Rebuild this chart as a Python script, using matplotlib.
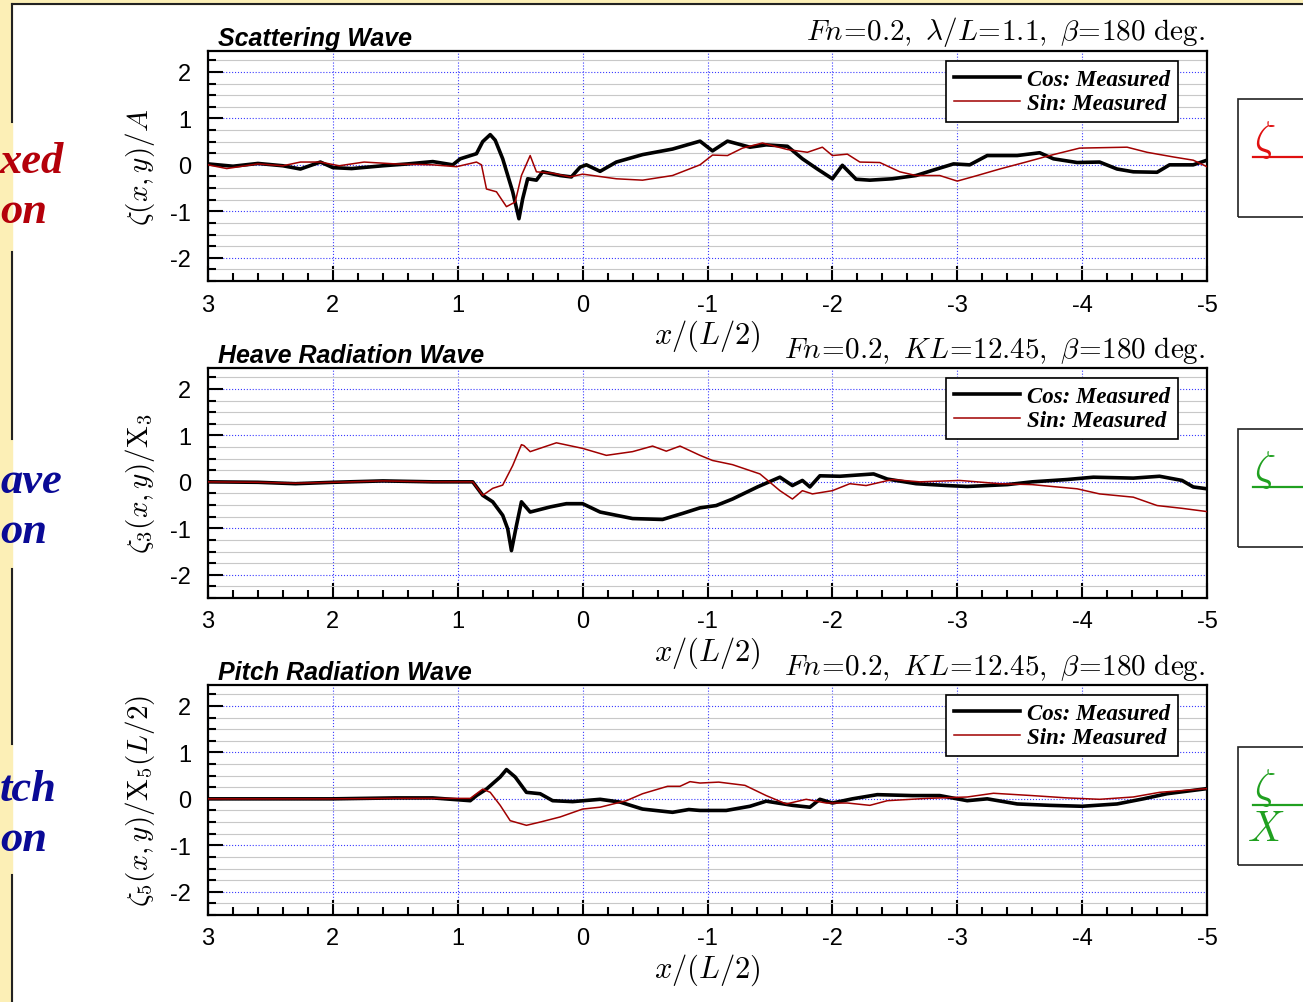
import numpy as np
import matplotlib
matplotlib.use('Agg')
import matplotlib.pyplot as plt
from matplotlib.patches import Rectangle
from matplotlib.lines import Line2D
from matplotlib.ticker import MultipleLocator

plt.rcParams['mathtext.fontset'] = 'cm'
plt.rcParams['font.family'] = 'Liberation Sans'

# wave elevation along the ship, (x/(L/2), value) pairs
scat_cos = [(3.0, 0.02), (2.8, -0.03), (2.6, 0.03), (2.4, -0.02), (2.26, -0.09), (2.1, 0.06),
            (2.0, -0.06), (1.85, -0.08), (1.6, -0.02), (1.4, 0.02), (1.2, 0.07), (1.04, 0.0),
            (0.98, 0.13), (0.85, 0.24), (0.8, 0.5), (0.74, 0.65), (0.70, 0.53), (0.64, 0.13),
            (0.56, -0.58), (0.51, -1.16), (0.48, -0.73), (0.44, -0.3), (0.37, -0.33), (0.32, -0.15),
            (0.18, -0.23), (0.09, -0.26), (0.02, -0.05), (-0.03, 0.0), (-0.14, -0.14), (-0.27, 0.06),
            (-0.48, 0.22), (-0.72, 0.34), (-0.94, 0.51), (-1.04, 0.30), (-1.16, 0.51), (-1.34, 0.38),
            (-1.47, 0.43), (-1.64, 0.40), (-1.76, 0.13), (-1.88, -0.09), (-2.0, -0.3), (-2.08, -0.01),
            (-2.19, -0.31), (-2.3, -0.33), (-2.48, -0.3), (-2.67, -0.23), (-2.8, -0.12), (-2.97, 0.02),
            (-3.1, 0.0), (-3.24, 0.2), (-3.48, 0.2), (-3.66, 0.26), (-3.77, 0.13), (-3.96, 0.05),
            (-4.14, 0.06), (-4.28, -0.09), (-4.41, -0.15), (-4.6, -0.16), (-4.7, 0.0), (-4.89, 0.0),
            (-5.0, 0.1)]
scat_sin = [(3.0, 0.0), (2.85, -0.08), (2.6, 0.02), (2.4, -0.02), (2.26, 0.06), (2.1, 0.06),
            (1.95, -0.02), (1.75, 0.06), (1.5, 0.02), (1.2, 0.0), (1.01, -0.04), (0.85, 0.06),
            (0.81, 0.0), (0.77, -0.52), (0.69, -0.58), (0.61, -0.9), (0.54, -0.8), (0.49, -0.23),
            (0.42, 0.2), (0.37, -0.15), (0.24, -0.18), (0.1, -0.26), (0.0, -0.2), (-0.27, -0.3),
            (-0.48, -0.33), (-0.72, -0.23), (-0.94, 0.0), (-1.04, 0.21), (-1.16, 0.2), (-1.28, 0.36),
            (-1.44, 0.47), (-1.64, 0.33), (-1.8, 0.27), (-1.92, 0.38), (-2.0, 0.2), (-2.12, 0.23),
            (-2.22, 0.06), (-2.38, 0.05), (-2.54, -0.15), (-2.67, -0.23), (-2.86, -0.23), (-3.0, -0.35),
            (-3.16, -0.23), (-3.34, -0.09), (-3.55, 0.06), (-3.74, 0.2), (-3.98, 0.36), (-4.36, 0.38),
            (-4.52, 0.27), (-4.73, 0.17), (-4.89, 0.1), (-5.0, -0.04)]

heave_cos = [(3.0, 0.0), (2.6, -0.01), (2.3, -0.04), (2.0, -0.01), (1.6, 0.02), (1.2, 0.0),
             (0.88, 0.0), (0.8, -0.29), (0.72, -0.43), (0.64, -0.72), (0.6, -1.01), (0.57, -1.48),
             (0.53, -0.94), (0.49, -0.43), (0.42, -0.65), (0.26, -0.54), (0.13, -0.47), (0.0, -0.47),
             (-0.14, -0.65), (-0.4, -0.79), (-0.64, -0.81), (-0.8, -0.68), (-0.94, -0.56), (-1.07, -0.51),
             (-1.2, -0.37), (-1.4, -0.11), (-1.58, 0.1), (-1.68, -0.08), (-1.76, 0.03), (-1.82, -0.11),
             (-1.9, 0.13), (-2.06, 0.12), (-2.33, 0.17), (-2.44, 0.06), (-2.67, -0.04), (-2.92, -0.08),
             (-3.08, -0.1), (-3.4, -0.06), (-3.6, 0.0), (-3.88, 0.05), (-4.09, 0.1), (-4.41, 0.08),
             (-4.62, 0.12), (-4.8, 0.03), (-4.89, -0.11), (-5.0, -0.15)]
heave_sin = [(3.0, 0.0), (2.6, -0.01), (2.3, -0.03), (2.0, -0.01), (1.6, 0.02), (1.2, 0.0),
             (0.88, 0.0), (0.8, -0.29), (0.72, -0.14), (0.64, -0.07), (0.56, 0.35), (0.49, 0.8),
             (0.47, 0.78), (0.42, 0.65), (0.21, 0.84), (0.0, 0.72), (-0.19, 0.57), (-0.4, 0.65),
             (-0.56, 0.77), (-0.67, 0.66), (-0.78, 0.77), (-0.94, 0.57), (-1.04, 0.46), (-1.2, 0.37),
             (-1.42, 0.17), (-1.58, -0.19), (-1.68, -0.37), (-1.76, -0.19), (-1.84, -0.26), (-2.0, -0.19),
             (-2.14, -0.04), (-2.27, -0.08), (-2.48, 0.05), (-2.7, 0.0), (-3.02, 0.03), (-3.34, -0.04),
             (-3.6, -0.06), (-3.96, -0.15), (-4.14, -0.26), (-4.41, -0.33), (-4.6, -0.51), (-4.8, -0.57),
             (-5.0, -0.64)]

pitch_cos = [(3.0, 0.0), (2.5, 0.0), (2.0, 0.0), (1.5, 0.02), (1.2, 0.02), (0.9, -0.04),
             (0.85, 0.07), (0.77, 0.21), (0.66, 0.47), (0.61, 0.63), (0.54, 0.47), (0.45, 0.14),
             (0.34, 0.11), (0.24, -0.04), (0.08, -0.06), (-0.14, -0.01), (-0.3, -0.07), (-0.48, -0.22),
             (-0.72, -0.29), (-0.85, -0.23), (-0.94, -0.25), (-1.15, -0.25), (-1.34, -0.16), (-1.47, -0.05),
             (-1.68, -0.14), (-1.82, -0.18), (-1.9, -0.01), (-2.0, -0.09), (-2.16, 0.0), (-2.36, 0.09),
             (-2.64, 0.07), (-2.86, 0.07), (-3.08, -0.04), (-3.24, 0.0), (-3.48, -0.11), (-3.74, -0.14),
             (-4.0, -0.16), (-4.28, -0.11), (-4.49, 0.0), (-4.68, 0.11), (-5.0, 0.22)]
pitch_sin = [(3.0, 0.0), (2.5, 0.0), (2.0, 0.0), (1.5, 0.01), (1.2, 0.01), (0.9, 0.01),
             (0.8, 0.21), (0.74, 0.14), (0.66, -0.14), (0.58, -0.47), (0.45, -0.57), (0.34, -0.5),
             (0.18, -0.39), (0.0, -0.22), (-0.14, -0.18), (-0.35, -0.04), (-0.48, 0.11), (-0.68, 0.27),
             (-0.78, 0.27), (-0.86, 0.37), (-0.94, 0.34), (-1.09, 0.36), (-1.3, 0.29), (-1.47, 0.07),
             (-1.63, -0.11), (-1.79, -0.01), (-1.95, -0.09), (-2.12, -0.09), (-2.3, -0.14), (-2.44, -0.04),
             (-2.76, 0.01), (-3.08, 0.04), (-3.29, 0.12), (-3.6, 0.07), (-3.88, 0.02), (-4.14, -0.01),
             (-4.41, 0.04), (-4.62, 0.14), (-5.0, 0.22)]

titles = ['Scattering Wave', 'Heave Radiation Wave', 'Pitch Radiation Wave']
conditions = [r'$Fn\!=\!0.2,\ \lambda/L\!=\!1.1,\ \beta\!=\!180\ \mathrm{deg.}$',
              r'$Fn\!=\!0.2,\ KL\!=\!12.45,\ \beta\!=\!180\ \mathrm{deg.}$',
              r'$Fn\!=\!0.2,\ KL\!=\!12.45,\ \beta\!=\!180\ \mathrm{deg.}$']
ylabels = [r'$\zeta(x,y)/A$', r'$\zeta_3(x,y)/\mathrm{X}_3$', r'$\zeta_5(x,y)/\mathrm{X}_5(L/2)$']
xticks = [3, 2, 1, 0, -1, -2, -3, -4, -5]
yticks = [2, 1, 0, -1, -2]
side_words = [('xed', 'on', '#b4000a', 162), ('ave', 'on', '#0a0a96', 482), ('tch', 'on', '#0a0a96', 790)]

W, H = 1303, 1003
fig = plt.figure(figsize=(W / 100, H / 100), dpi=100)
fig.patch.set_facecolor('white')

def fx(px):
    return px / W

def fy(py):
    return 1 - py / H

# slide background strips and borders
yellow = '#fcefb6'
fig.add_artist(Rectangle((0, fy(5)), 1, 5 / H, transform=fig.transFigure, color=yellow, zorder=0))
fig.add_artist(Rectangle((0, 0), fx(12), 1, transform=fig.transFigure, color=yellow, zorder=0))
fig.add_artist(Line2D([fx(12), 1], [fy(5), fy(5)], transform=fig.transFigure, color='#222222', lw=1.5))
for y0, y1 in [(5, 123), (253, 440), (570, 745), (876, 1003)]:
    fig.add_artist(Line2D([fx(12), fx(12)], [fy(y0), fy(y1)], transform=fig.transFigure,
                          color='#222222', lw=1.5))

panels = [(scat_cos, scat_sin, 52), (heave_cos, heave_sin, 369), (pitch_cos, pitch_sin, 686)]
ax_h = 230

for i, (cos_d, sin_d, top) in enumerate(panels):
    ax = fig.add_axes([fx(208), fy(top + ax_h), 999 / W, ax_h / H])
    cx, cy = np.array(cos_d).T
    sx, sy = np.array(sin_d).T
    ax.plot(cx, cy, color='black', lw=2.6, label='Cos: Measured', zorder=3)
    ax.plot(sx, sy, color='#a00000', lw=1.1, label='Sin: Measured', zorder=4)

    ax.set_xlim(3, -5)
    ax.set_ylim(-2.5, 2.45)
    ax.set_xticks(xticks)
    ax.set_xticklabels([str(v) for v in xticks])
    ax.set_yticks(yticks)
    ax.set_yticklabels([str(v) for v in yticks])
    ax.xaxis.set_minor_locator(MultipleLocator(0.2))
    ax.yaxis.set_minor_locator(MultipleLocator(0.25))
    ax.tick_params(which='both', direction='in', labelsize=17, width=1.5, color='black')
    ax.tick_params(which='major', length=11)
    ax.tick_params(which='minor', length=6)
    ax.tick_params(axis='x', pad=9)
    ax.tick_params(axis='y', pad=12)

    ax.grid(which='major', color='#3a3aff', lw=0.8, ls=':')
    ax.grid(which='minor', axis='y', color='#c8c8c8', lw=0.8, ls='-')
    ax.set_axisbelow(True)
    for s in ax.spines.values():
        s.set_linewidth(1.6)

    ax.text(0.01, 1.005, titles[i], transform=ax.transAxes, ha='left', va='bottom',
            fontsize=18, fontweight='bold', fontstyle='italic')
    ax.text(0.998, 1.012, conditions[i], transform=ax.transAxes, ha='right', va='bottom',
            fontsize=21)
    ax.text(-0.068, 0.5, ylabels[i], transform=ax.transAxes, rotation=90,
            ha='center', va='center', fontsize=21)
    ax.text(0.5, -0.235, r'$x/(L/2)$', transform=ax.transAxes, ha='center', va='center',
            fontsize=22)

    leg = ax.legend(loc='upper right', bbox_to_anchor=(0.971, 0.957), borderaxespad=0,
                    handlelength=2.9, fancybox=False, framealpha=1, edgecolor='black',
                    prop={'family': 'Liberation Serif', 'weight': 'bold', 'style': 'italic',
                          'size': 16.5},
                    borderpad=0.35, labelspacing=0.15, handletextpad=0.3)
    leg.get_frame().set_linewidth(1.2)

    # cropped side labels from the slide
    w1, w2, col, ym = side_words[i]
    fig.text(fx(0), fy(ym), w1, ha='left', va='center', color=col, fontsize=32,
             family='Liberation Serif', fontweight='bold', fontstyle='italic')
    fig.text(fx(0), fy(ym + 50), w2, ha='left', va='center', color=col, fontsize=32,
             family='Liberation Serif', fontweight='bold', fontstyle='italic')

# cropped formula boxes on the right
box_tops = [100, 430, 748]
box_cols = ['#e01010', '#20a020', '#20a020']
for j, (bt, bc) in enumerate(zip(box_tops, box_cols)):
    fig.add_artist(Rectangle((fx(1238), fy(bt + 118)), fx(80), 118 / H, transform=fig.transFigure,
                             fill=False, edgecolor='#222222', lw=1.2))
    fig.text(fx(1254), fy(bt + 40), r'$\zeta$', color=bc, fontsize=30, ha='left', va='center')
    fig.add_artist(Line2D([fx(1253), 1], [fy(bt + 58), fy(bt + 58)], transform=fig.transFigure,
                          color=bc, lw=1.6))
    if j == 2:
        fig.text(fx(1247), fy(bt + 82), r'$X$', color=bc, fontsize=30, ha='left', va='center')

fig.savefig('out.png', dpi=100)
